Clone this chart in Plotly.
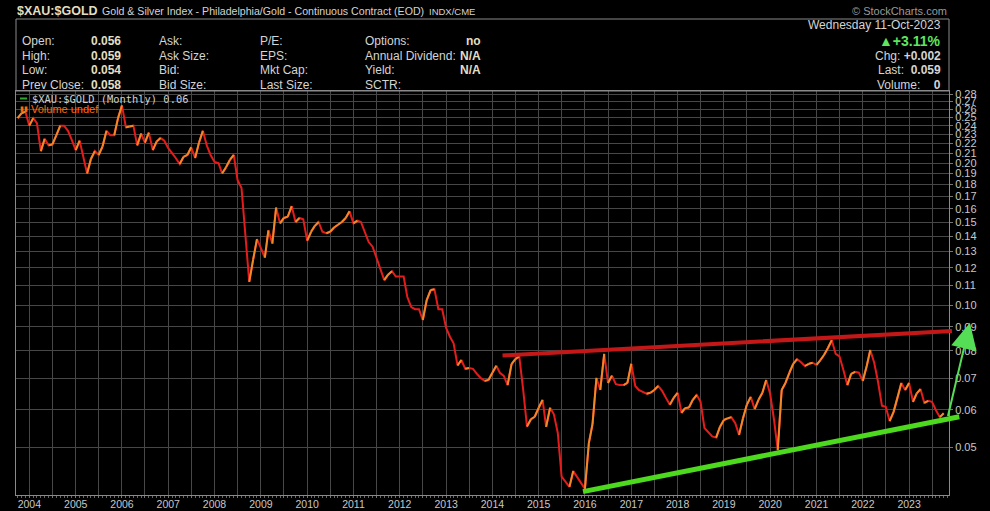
import plotly.graph_objects as go
import numpy as np
import pandas as pd

# monthly closes of $XAU:$GOLD, Oct 2003 .. Oct 2023
start_month = "2003-10-01"
ratio = [
    0.249, 0.255, 0.257, 0.240, 0.249, 0.243, 0.212, 0.225, 0.218, 0.219, 0.229, 0.240,
    0.240, 0.234, 0.224, 0.213, 0.223, 0.208, 0.190, 0.204, 0.212, 0.208, 0.217, 0.234,
    0.229, 0.229, 0.249, 0.265, 0.238, 0.239, 0.240, 0.218, 0.231, 0.221, 0.232, 0.213,
    0.222, 0.226, 0.223, 0.215, 0.210, 0.205, 0.199, 0.206, 0.208, 0.216, 0.205, 0.221,
    0.234, 0.218, 0.208, 0.201, 0.200, 0.190, 0.196, 0.203, 0.208, 0.184, 0.177, 0.140,
    0.112, 0.125, 0.138, 0.132, 0.126, 0.144, 0.135, 0.161, 0.149, 0.153, 0.154, 0.162,
    0.150, 0.153, 0.152, 0.137, 0.143, 0.147, 0.150, 0.143, 0.142, 0.143, 0.146, 0.148,
    0.150, 0.153, 0.158, 0.149, 0.151, 0.150, 0.143, 0.136, 0.133, 0.126, 0.119, 0.113,
    0.116, 0.118, 0.115, 0.115, 0.115, 0.104, 0.099, 0.098, 0.098, 0.093, 0.1025, 0.1076,
    0.108, 0.098, 0.098, 0.0895, 0.0856, 0.083, 0.0745, 0.0765, 0.0733, 0.0736, 0.0733, 0.0715,
    0.0701, 0.0691, 0.0694, 0.0719, 0.0744, 0.0719, 0.0708, 0.0677, 0.075, 0.0768, 0.0779, 0.0661,
    0.0553, 0.0573, 0.058, 0.0606, 0.063, 0.0552, 0.0606, 0.0587, 0.0536, 0.0433, 0.0422, 0.0412,
    0.0445, 0.0433, 0.042, 0.0408, 0.051, 0.056, 0.0701, 0.0661, 0.0788, 0.0684, 0.0709, 0.068,
    0.0677, 0.0677, 0.0684, 0.0751, 0.0674, 0.0661, 0.0655, 0.0649, 0.0652, 0.0661, 0.0674, 0.0658,
    0.0636, 0.0615, 0.0636, 0.0652, 0.0591, 0.0605, 0.0607, 0.063, 0.0645, 0.0624, 0.0549, 0.0539,
    0.0527, 0.0524, 0.0552, 0.0571, 0.0576, 0.0579, 0.0562, 0.0531, 0.0576, 0.0615, 0.0639, 0.0602,
    0.063, 0.0652, 0.0694, 0.0649, 0.0571, 0.0493, 0.0661, 0.0684, 0.0719, 0.0751, 0.0768, 0.0757,
    0.0743, 0.0751, 0.0755, 0.0747, 0.0765, 0.0784, 0.0811, 0.0843, 0.0788, 0.0779, 0.0729, 0.0677,
    0.0715, 0.0722, 0.0719, 0.0691, 0.0743, 0.0803, 0.0755, 0.0688, 0.0612, 0.0609, 0.0568, 0.0594,
    0.0636, 0.0684, 0.0661, 0.0684, 0.0624, 0.0649, 0.0664, 0.0621, 0.0627, 0.0624, 0.0599, 0.0579,
    0.059,
]
dates = pd.date_range(start_month, periods=len(ratio), freq="MS")

# hand drawn lines on the chart
red_trend_dates = ["2014-03-10", "2023-12-05"]
red_trend_vals = [0.0782, 0.0881]
green_trend_dates = ["2015-12-05", "2024-02-01"]
green_trend_vals = [0.0402, 0.058]
arrow_dates = ["2023-11-01", "2024-04-25"]
arrow_vals = [0.0578, 0.0917]

y_ticks = [round(0.05 + 0.01 * k, 2) for k in range(24)]

# header info box
info_rows = [
    ("Open:", "0.056", "Ask:", "P/E:", "Options:", "no"),
    ("High:", "0.059", "Ask Size:", "EPS:", "Annual Dividend:", "N/A"),
    ("Low:", "0.054", "Bid:", "Mkt Cap:", "Yield:", "N/A"),
    ("Prev Close:", "0.058", "Bid Size:", "Last Size:", "SCTR:", ""),
]

# pixel -> paper helpers (plot area is 16..949 x 91..495)
def px(x):
    return (x - 16) / 933

def py(y):
    return (495 - y) / 404

LABEL = "#d4d4d4"
VALUE = "#e2dec2"
FONT = "Liberation Sans"

fig = go.Figure()
fig.add_trace(go.Scatter(x=dates, y=ratio, mode="lines",
                         line=dict(color="#e51c1c", width=2), hoverinfo="skip"))

# rising months in orange on top
up_x, up_y = [], []
for i in range(1, len(ratio)):
    if ratio[i] > ratio[i - 1]:
        up_x += [dates[i - 1], dates[i], None]
        up_y += [ratio[i - 1], ratio[i], None]
fig.add_trace(go.Scatter(x=up_x, y=up_y, mode="lines",
                         line=dict(color="#f08a26", width=2), hoverinfo="skip"))

ann = []
def line_ann(d, v, color, width, head=0, size=1):
    ann.append(dict(x=d[1], y=np.log10(v[1]), ax=d[0], ay=np.log10(v[0]),
                    xref="x", yref="y", axref="x", ayref="y", text="",
                    showarrow=True, arrowhead=head, arrowsize=size,
                    arrowwidth=width, arrowcolor=color, standoff=0, startstandoff=0))

line_ann(red_trend_dates, red_trend_vals, "#c41818", 4)
line_ann(green_trend_dates, green_trend_vals, "#4cd91e", 5)
line_ann(arrow_dates, arrow_vals, "#55dd55", 2, head=2, size=2.6)

def txt(x, y, s, color=LABEL, size=12, anchor="left", bold=False, family=FONT):
    if bold:
        s = "<b>" + s + "</b>"
    ann.append(dict(x=px(x), y=py(y), xref="paper", yref="paper", text=s,
                    showarrow=False, xanchor=anchor, yanchor="middle",
                    font=dict(color=color, size=size, family=family)))

txt(15, 11, "$XAU:$GOLD", VALUE, 12.5, bold=True)
txt(100, 11, "Gold &amp; Silver Index - Philadelphia/Gold - Continuous Contract (EOD)", LABEL, 10.6)
txt(427, 11.5, "INDX/CME", LABEL, 9.5)
txt(949, 11, "© StockCharts.com", "#9a9a9a", 11, anchor="right")

row_y = [41, 55.5, 70, 84.5]
for (a, b, c, d, e, f), yy in zip(info_rows, row_y):
    txt(20, yy, a)
    txt(89, yy, b, VALUE, bold=True)
    txt(157, yy, c)
    txt(258, yy, d)
    txt(363, yy, e)
    txt(483, yy, f, VALUE, anchor="right", bold=True)

txt(943, 25.5, "Wednesday 11-Oct-2023", anchor="right")
txt(943, 41, "▲+3.11%", "#5ee65e", 14, anchor="right", bold=True)
txt(943, 55.5, "Chg: <b>+0.002</b>", anchor="right")
txt(943, 70, "Last:  <b>0.059</b>", anchor="right")
txt(943, 84.5, "Volume:    <b>0</b>", anchor="right")

txt(30, 98.5, "$XAU:$GOLD (Monthly) 0.06", "#d0d0d0", 10.4, family="DejaVu Sans Mono")
txt(29, 108.5, "Volume undef", "#ff6a10", 11)
txt(18, 108.5, "▮▮", "#ff6a10", 7)

tick_dates = pd.date_range("2004-01-01", "2023-07-01", freq="6MS")
tick_text = [str(d.year) if d.month == 1 else "" for d in tick_dates]

fig.update_layout(
    width=990, height=511,
    margin=dict(l=16, r=41, t=91, b=16),
    paper_bgcolor="black", plot_bgcolor="black",
    showlegend=False,
    annotations=ann,
    shapes=[
        dict(type="rect", xref="paper", yref="paper", x0=0, x1=1, y0=1, y1=py(19),
             line=dict(color="#8a8a8a", width=1)),
        dict(type="line", xref="paper", yref="paper", x0=px(20), x1=px(27),
             y0=py(98.5), y1=py(98.5), line=dict(color="#2ea82e", width=2)),
    ],
    xaxis=dict(
        type="date", range=["2003-09-18", "2023-11-12"], automargin=False,
        tickvals=tick_dates, ticktext=tick_text,
        showgrid=True, gridcolor="#474747", gridwidth=1,
        ticks="outside", ticklen=2, tickcolor="#777",
        ticklabelstandoff=-3,
        minor=dict(dtick="M1", tick0="2004-01-01", ticks="outside", ticklen=2,
                   tickcolor="#666", showgrid=False),
        showline=True, linecolor="#8a8a8a", mirror=True,
        tickfont=dict(color="#c8c8c8", size=10.5, family=FONT),
        zeroline=False,
    ),
    yaxis=dict(
        type="log", side="right", automargin=False,
        range=[np.log10(0.0396), np.log10(0.2842)],
        tickvals=y_ticks, ticktext=[f"{v:.2f}" for v in y_ticks],
        showgrid=True, gridcolor="#474747", gridwidth=1,
        ticks="outside", ticklen=3, tickcolor="#777",
        showline=True, linecolor="#8a8a8a", mirror=True,
        tickfont=dict(color="#c8c8c8", size=11, family=FONT),
        zeroline=False,
    ),
)

fig.write_html("out.html", config={"displayModeBar": False},
               post_script="document.body.style.margin='0';document.body.style.background='black';")
